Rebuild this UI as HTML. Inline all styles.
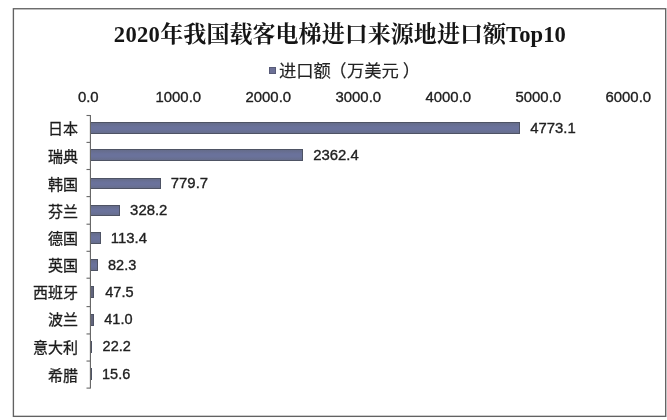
<!DOCTYPE html>
<html lang="zh"><head><meta charset="utf-8"><title>2020年我国载客电梯进口来源地进口额Top10</title>
<style>
html,body{margin:0;padding:0;background:#fff;}
body{width:667px;height:420px;position:relative;overflow:hidden;font-family:"Liberation Sans","Noto Sans CJK SC",sans-serif;color:#1f1f1f;}
.title{position:absolute;left:113.8px;letter-spacing:0.05px;top:20px;font-family:"Liberation Serif","Noto Serif CJK SC",serif;font-weight:bold;font-size:23px;line-height:30px;white-space:nowrap;color:#151515;}
.title .n{font-family:"Liberation Serif",serif;font-weight:bold;font-size:22.6px;display:inline-block;text-align:center;}
.legend{position:absolute;left:279px;top:58.5px;font-size:17.3px;line-height:24px;white-space:nowrap;color:#222;-webkit-text-stroke:0.15px #222;}
.lgm{position:absolute;left:268.6px;top:66.8px;width:7px;height:7px;background:#6c7096;box-sizing:border-box;border:1px solid #585b78;}
.xl{position:absolute;top:88px;width:80px;margin-left:-40px;text-align:center;font-size:14.9px;line-height:18px;color:#222;-webkit-text-stroke:0.35px #1c1c1c;}
.cat{position:absolute;left:0;width:78px;text-align:right;font-size:15px;line-height:20px;white-space:nowrap;color:#1c1c1c;-webkit-text-stroke:0.3px #1c1c1c;}
.val{position:absolute;font-size:14.9px;line-height:18px;white-space:nowrap;color:#222;-webkit-text-stroke:0.35px #1c1c1c;}
.bar{position:absolute;height:12px;background:linear-gradient(#656c8a,#6a729b 40%,#6a729b 65%,#676e8c);box-sizing:border-box;border:1px solid #4e5364;border-left:none;}
</style></head><body>
<svg width="667" height="420" viewBox="0 0 667 420" style="position:absolute;left:0;top:0"><rect x="13.4" y="8.75" width="652.3" height="407.6" fill="none" stroke="#626262" stroke-width="1.35"/></svg>
<div class="title"><span class="n" style="width:46.5px;text-align:left;letter-spacing:0.3px">2020</span>年我国载客电梯进口来源地进口额<span class="n" style="width:58px;letter-spacing:0.1px">Top10</span></div>
<div class="lgm"></div><div class="legend">进口额<span style="margin-left:-1.6px;margin-right:0.4px">（</span>万美元<span style="margin-left:4.0px">）</span></div>

<div class="xl" style="left:88.3px">0.0</div>
<div class="xl" style="left:178.3px">1000.0</div>
<div class="xl" style="left:268.3px">2000.0</div>
<div class="xl" style="left:358.3px">3000.0</div>
<div class="xl" style="left:448.3px">4000.0</div>
<div class="xl" style="left:538.3px">5000.0</div>
<div class="xl" style="left:628.3px">6000.0</div>
<div class="cat" style="top:119px">日本</div>
<div class="bar" style="left:90.0px;top:122px;height:12px;width:430.0px"></div>
<div class="val" style="font-size:14.9px;top:119px;left:530.2px">4773.1</div>
<div class="cat" style="top:147px">瑞典</div>
<div class="bar" style="left:90.0px;top:149px;height:12px;width:213.0px"></div>
<div class="val" style="font-size:14.9px;top:146px;left:313.2px">2362.4</div>
<div class="cat" style="top:175px">韩国</div>
<div class="bar" style="left:90.0px;top:178px;height:11px;width:70.6px"></div>
<div class="val" style="font-size:14.9px;top:174px;left:170.8px">779.7</div>
<div class="cat" style="top:202px">芬兰</div>
<div class="bar" style="left:90.0px;top:205px;height:11px;width:29.9px"></div>
<div class="val" style="font-size:14.9px;top:201px;left:130.1px">328.2</div>
<div class="cat" style="top:229px">德国</div>
<div class="bar" style="left:90.0px;top:232px;height:12px;width:10.6px"></div>
<div class="val" style="font-size:14.9px;top:229px;left:110.8px">113.4</div>
<div class="cat" style="top:256px">英国</div>
<div class="bar" style="left:90.0px;top:259px;height:12px;width:7.8px"></div>
<div class="val" style="font-size:14.5px;top:256px;left:108.0px">82.3</div>
<div class="cat" style="top:283px">西班牙</div>
<div class="bar" style="left:90.0px;top:286px;height:12px;width:4.0px;background:#62657c"></div>
<div class="val" style="font-size:14.5px;top:283px;left:105.3px">47.5</div>
<div class="cat" style="top:310px">波兰</div>
<div class="bar" style="left:90.0px;top:314px;height:12px;width:4.0px;background:#62657c"></div>
<div class="val" style="font-size:14.5px;top:310px;left:104.3px">41.0</div>
<div class="cat" style="top:338px">意大利</div>
<div class="bar" style="left:90.0px;top:341px;height:12px;width:1.9px;background:#62657c"></div>
<div class="val" style="font-size:14.5px;top:337px;left:102.6px">22.2</div>
<div class="cat" style="top:366px">希腊</div>
<div class="bar" style="left:90.0px;top:368px;height:12px;width:1.9px;background:#62657c"></div>
<div class="val" style="font-size:14.5px;top:365px;left:102.0px">15.6</div>
<svg class="ax" width="100" height="300" viewBox="0 0 100 300" style="position:absolute;left:0;top:100px"><rect x="89.85" y="15" width="1.15" height="273.6" fill="#686868"/><rect x="86.5" y="14.95" width="3.5" height="1.1" fill="#686868"/><rect x="86.5" y="41.85" width="3.5" height="1.1" fill="#686868"/><rect x="86.5" y="68.95" width="3.5" height="1.1" fill="#686868"/><rect x="86.5" y="96.05" width="3.5" height="1.1" fill="#686868"/><rect x="86.5" y="123.65" width="3.5" height="1.1" fill="#686868"/><rect x="86.5" y="150.75" width="3.5" height="1.1" fill="#686868"/><rect x="86.5" y="177.65" width="3.5" height="1.1" fill="#686868"/><rect x="86.5" y="206.05" width="3.5" height="1.1" fill="#686868"/><rect x="86.5" y="233.40" width="3.5" height="1.1" fill="#686868"/><rect x="86.5" y="260.50" width="3.5" height="1.1" fill="#686868"/><rect x="86.5" y="287.55" width="3.5" height="1.1" fill="#686868"/></svg>
</body></html>
